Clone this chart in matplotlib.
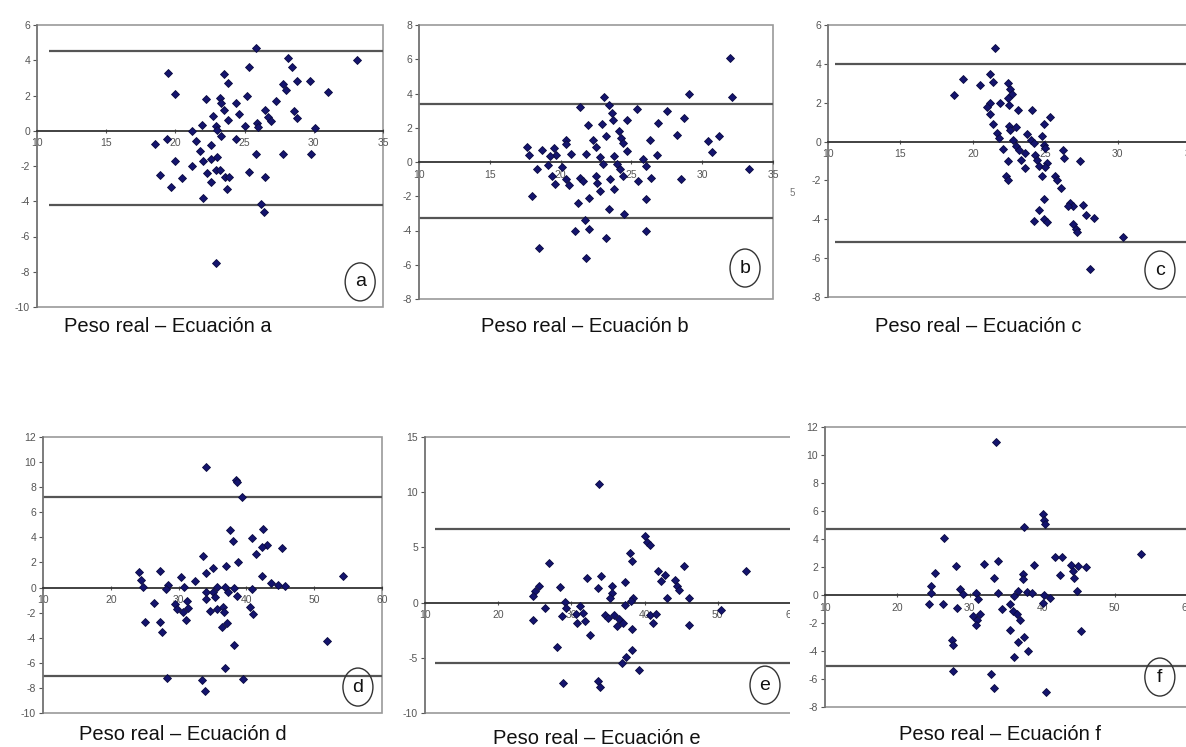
import matplotlib
matplotlib.use("Agg")
import matplotlib.pyplot as plt
from matplotlib.patches import Ellipse, Rectangle

plt.rcParams["font.family"] = ["Liberation Sans", "DejaVu Sans"]
plt.rcParams["axes.unicode_minus"] = False

W, H = 1186, 747

# ---- data ----
a_x = [25.8, 28.1, 28.4, 33.1, 19.5, 25.3, 23.5, 23.8, 28.8, 29.7, 27.8, 28.0, 31.0, 20.0,
       22.2, 23.2, 23.3, 25.2, 24.4, 24.6, 23.5, 27.3, 26.5, 26.7, 26.9, 28.6, 28.8, 22.7,
       23.8, 22.9, 21.9, 23.0, 25.0, 25.9, 26.0, 30.1, 21.2, 19.4, 18.5, 21.5, 23.3, 24.4,
       22.6, 21.8, 20.0, 22.0, 22.6, 23.0, 25.8, 27.8, 29.8, 21.2, 18.9, 20.5, 19.7, 22.3,
       22.9, 23.2, 23.6, 23.9, 22.6, 23.75, 25.3, 26.5, 22.0, 26.2, 26.4, 22.9]
a_y = [4.7, 4.1, 3.6, 4.0, 3.3, 3.6, 3.2, 2.7, 2.8, 2.8, 2.65, 2.3, 2.2, 2.1,
       1.8, 1.85, 1.6, 1.95, 1.6, 0.97, 1.15, 1.7, 1.2, 0.8, 0.55, 1.1, 0.72, 0.85,
       0.59, 0.25, 0.34, 0.05, 0.28, 0.44, 0.21, 0.15, -0.04, -0.45, -0.76, -0.6, -0.32, -0.45,
       -0.83, -1.17, -1.69, -1.74, -1.61, -1.5, -1.33, -1.33, -1.33, -2.0, -2.5, -2.7, -3.2, -2.37,
       -2.2, -2.2, -2.65, -2.6, -2.9, -3.3, -2.35, -2.65, -3.8, -4.15, -4.6, -7.5]

b_x = [31.96, 32.1, 29.1, 23.1, 21.4, 23.4, 25.4, 27.5, 23.6, 23.7, 24.7, 28.7, 21.9, 22.9,
       26.9, 24.1, 23.2, 28.2, 20.4, 22.3, 24.3, 26.3, 30.4, 31.2, 20.4, 22.5, 24.4, 24.7,
       30.7, 17.6, 17.8, 18.7, 19.5, 19.7, 19.25, 20.7, 21.8, 22.8, 23.8, 26.8, 19.1, 18.3,
       20.1, 23.0, 23.95, 25.8, 26.0, 33.3, 19.4, 20.4, 21.4, 22.5, 24.2, 24.4, 26.4, 28.5,
       19.6, 20.6, 21.6, 22.6, 23.5, 25.5, 22.8, 23.8, 18.0, 22.0, 26.0, 21.2, 23.4, 24.5,
       21.7, 21.0, 22.0, 26.0, 23.2, 18.5, 21.8]
b_y = [6.05, 3.8, 3.95, 3.8, 3.2, 3.3, 3.07, 2.97, 2.88, 2.45, 2.47, 2.55, 2.18, 2.23,
       2.27, 1.8, 1.5, 1.6, 1.3, 1.26, 1.4, 1.3, 1.2, 1.5, 1.03, 0.87, 1.13, 0.64,
       0.58, 0.87, 0.41, 0.68, 0.84, 0.41, 0.35, 0.49, 0.49, 0.29, 0.35, 0.41, -0.17, -0.39,
       -0.29, -0.14, -0.14, 0.15, -0.23, -0.43, -0.82, -1.0, -0.91, -0.82, -0.43, -0.82, -0.95, -1.0,
       -1.26, -1.34, -1.1, -1.2, -1.0, -1.1, -1.7, -1.6, -2.0, -2.08, -2.18, -2.4, -2.76, -3.05,
       -3.38, -4.02, -3.93, -4.02, -4.45, -5.03, -5.6]

c_x = [21.56, 19.3, 18.7, 20.5, 21.2, 21.4, 22.4, 22.6, 22.7, 22.4, 21.9, 21.2, 21.0, 22.5,
       23.1, 24.1, 25.3, 21.2, 21.4, 21.7, 21.8, 22.5, 23.0, 24.9, 22.6, 23.75, 24.8, 22.8,
       24.0, 24.2, 24.9, 22.1, 23.0, 23.6, 23.2, 25.0, 26.2, 26.3, 27.4, 22.4, 24.3, 23.3,
       24.4, 23.6, 25.1, 24.6, 25.0, 24.8, 22.3, 22.4, 25.7, 25.8, 26.1, 24.9, 26.7, 26.9,
       26.6, 27.6, 27.8, 28.4, 24.6, 24.2, 24.9, 25.1, 26.9, 27.1, 27.2, 30.4, 28.1]
c_y = [4.84, 3.24, 2.38, 2.9, 3.46, 3.08, 3.03, 2.69, 2.43, 2.26, 2.0, 1.96, 1.77, 1.86,
       1.65, 1.6, 1.26, 1.4, 0.88, 0.45, 0.19, 0.79, 0.74, 0.88, 0.62, 0.4, 0.31, 0.1,
       0.1, -0.07, -0.16, -0.38, -0.24, -0.59, -0.45, -0.33, -0.41, -0.84, -0.98, -0.98, -0.67, -0.93,
       -0.93, -1.36, -1.1, -1.27, -1.33, -1.79, -1.79, -1.96, -1.79, -1.96, -2.39, -2.96, -3.16, -3.33,
       -3.33, -3.26, -3.77, -3.94, -3.53, -4.08, -4.0, -4.12, -4.25, -4.51, -4.64, -4.93, -6.55]

d_x = [34.0, 38.5, 38.6, 39.3, 37.6, 42.5, 38.0, 40.8, 43.1, 42.3, 45.2, 41.4, 33.6, 38.8,
       37.0, 35.0, 34.1, 27.2, 24.1, 42.3, 54.3, 24.4, 30.3, 32.4, 24.8, 28.5, 30.8, 35.6,
       36.8, 38.1, 40.8, 43.7, 44.7, 45.7, 28.2, 34.0, 35.1, 37.3, 38.6, 34.1, 35.4, 26.3,
       29.5, 31.3, 29.7, 31.4, 30.6, 34.6, 35.6, 36.5, 36.7, 40.5, 40.9, 31.1, 25.1, 27.2,
       27.6, 37.2, 36.4, 38.1, 51.9, 36.9, 28.3, 33.4, 39.5, 33.9]
d_y = [9.6, 8.6, 8.4, 7.2, 4.56, 4.64, 3.7, 3.97, 3.36, 3.2, 3.17, 2.7, 2.5, 2.02,
       1.68, 1.58, 1.17, 1.31, 1.23, 0.96, 0.96, 0.62, 0.88, 0.56, 0.03, 0.24, 0.03, 0.08,
       0.03, -0.03, -0.11, 0.35, 0.21, 0.16, -0.11, -0.37, -0.37, -0.37, -0.64, -0.91, -0.77, -1.23,
       -1.31, -1.1, -1.71, -1.63, -1.97, -1.9, -1.71, -1.57, -1.97, -1.57, -2.1, -2.59, -2.77, -2.77,
       -3.52, -2.85, -3.17, -4.56, -4.29, -6.43, -7.23, -7.39, -7.31, -8.24]

e_x = [33.8, 40.0, 40.3, 40.7, 38.0, 38.3, 26.9, 45.4, 53.8, 41.8, 42.8, 42.2, 44.1, 44.4,
       44.7, 32.1, 34.0, 33.6, 37.3, 35.5, 35.6, 35.3, 28.4, 25.6, 25.0, 24.7, 43.1, 46.0,
       38.4, 38.1, 37.3, 26.4, 29.1, 29.3, 31.2, 30.6, 31.6, 28.7, 31.8, 30.8, 34.6, 35.0,
       35.8, 36.5, 37.1, 36.2, 38.3, 40.7, 41.5, 41.1, 50.5, 24.8, 46.1, 32.5, 28.1, 38.3,
       37.5, 36.9, 39.3, 28.9, 33.7, 33.9]
e_y = [10.7, 6.0, 5.5, 5.2, 4.5, 3.73, 3.59, 3.34, 2.89, 2.83, 2.53, 1.93, 2.08, 1.48,
       1.11, 2.23, 2.44, 1.33, 1.84, 1.54, 0.87, 0.42, 1.38, 1.48, 1.03, 0.63, 0.42, 0.42,
       0.42, 0.12, -0.18, -0.48, 0.03, -0.48, -0.27, -0.99, -0.93, -1.24, -1.69, -1.84, -1.08, -1.38,
       -1.08, -1.47, -1.84, -2.14, -2.38, -1.08, -0.99, -1.84, -0.63, -1.54, -1.99, -2.89, -4.04, -4.31,
       -4.91, -5.51, -6.11, -7.26, -7.1, -7.65]

f_x = [33.6, 40.1, 40.2, 40.4, 37.5, 26.4, 53.6, 41.7, 42.8, 44.0, 45.0, 46.0, 38.9, 28.1,
       31.9, 33.9, 42.4, 44.3, 44.4, 25.2, 33.3, 37.3, 37.4, 44.8, 24.6, 24.7, 28.7, 29.0,
       33.9, 36.7, 37.9, 38.6, 36.1, 30.9, 31.2, 40.2, 41.1, 40.1, 24.3, 26.3, 28.3, 34.5,
       35.6, 35.9, 36.5, 36.9, 30.5, 31.0, 31.4, 30.9, 35.5, 45.3, 27.6, 27.7, 37.5, 36.7,
       38.0, 36.1, 27.7, 32.9, 33.3, 40.5]
f_y = [10.9, 5.8, 5.37, 5.04, 4.89, 4.05, 2.93, 2.68, 2.68, 2.13, 2.09, 2.01, 2.13, 2.04,
       2.2, 2.4, 1.41, 1.72, 1.24, 1.56, 1.24, 1.49, 1.13, 0.29, 0.65, 0.17, 0.45, 0.09,
       0.17, 0.29, 0.24, 0.17, -0.07, 0.12, -0.31, 0.0, -0.24, -0.55, -0.62, -0.62, -0.91, -1.03,
       -0.67, -1.15, -1.39, -1.75, -1.51, -1.75, -1.39, -2.11, -2.52, -2.54, -3.19, -3.55, -3.0, -3.36,
       -3.98, -4.46, -5.42, -5.66, -6.62, -6.91]

upper = {"a": 4.5, "b": 3.4, "c": 3.98, "d": 7.2, "e": 6.65, "f": 4.68}
lower = {"a": -4.2, "b": -3.25, "c": -5.15, "d": -7.05, "e": -5.5, "f": -5.05}

panels = [
    # name, x, y, pixel box (l, t, r, b), xlim, xstep, ylim, ystep, line start, badge pos
    ("a", a_x, a_y, (37, 25, 383, 307), (10, 35), 5, (-10, 6), 2, 10.9, (0.934, 0.089)),
    ("b", b_x, b_y, (419, 25, 773, 299), (10, 35), 5, (-8, 8), 2, 10.0, (0.921, 0.113)),
    ("c", c_x, c_y, (828, 25, 1190, 297), (10, 35), 5, (-8, 6), 2, 10.5, (0.917, 0.099)),
    ("d", d_x, d_y, (43, 437, 382, 713), (10, 60), 10, (-10, 12), 2, 10.0, (0.929, 0.094)),
    ("e", e_x, e_y, (425, 437, 791, 713), (10, 60), 10, (-10, 15), 5, 11.3, (0.929, 0.101)),
    ("f", f_x, f_y, (825, 427, 1187, 707), (10, 60), 10, (-8, 12), 2, 10.0, (0.925, 0.107)),
]
label_pos = {"a": (168, 326), "b": (585, 326), "c": (978, 326),
             "d": (183, 734), "e": (597, 738), "f": (1000, 735)}

fig = plt.figure(figsize=(W / 100, H / 100), dpi=100)

for name, xs, ys, box, xlim, xstep, ylim, ystep, x0, badge in panels:
    l, t, r, b = box
    ax = fig.add_axes([l / W, 1 - b / H, (r - l) / W, (b - t) / H])
    if name == "f":
        ax.set_zorder(2)
    ax.set_xlim(*xlim)
    ax.set_ylim(*ylim)
    ax.set_xticks(range(xlim[0], xlim[1] + 1, xstep))
    ax.set_yticks(range(ylim[0], ylim[1] + 1, ystep))

    for s in ["top", "right"]:
        ax.spines[s].set_visible(False)
    ax.spines["left"].set_color("#777777")
    ax.spines["left"].set_linewidth(1.2)
    ax.spines["bottom"].set_position(("data", 0))
    ax.spines["bottom"].set_color("#333333")
    ax.spines["bottom"].set_linewidth(1.3)
    ax.add_patch(Rectangle((0, 0), 1, 1, transform=ax.transAxes, fill=False,
                           ec="#9a9a9a", lw=1.2, clip_on=False, zorder=0))

    ax.tick_params(axis="both", labelsize=7.5, colors="#555555", length=3, width=0.8)
    ax.tick_params(axis="x", direction="inout", pad=4)
    ax.tick_params(axis="y", pad=2)

    ax.hlines([upper[name], lower[name]], x0, xlim[1], colors="#555555", lw=1.6, zorder=1)
    ax.plot(xs, ys, linestyle="none", marker="D", ms=4.3, mfc="#14146e", mec="#0a0a40",
            mew=0.6, zorder=3)

    bw = 30 / (r - l)
    bh = 38 / (b - t)
    ax.add_patch(Ellipse(badge, bw, bh, transform=ax.transAxes, fill=False, ec="#333333",
                         lw=1.0, zorder=4))
    ax.text(badge[0], badge[1], name, transform=ax.transAxes, ha="center", va="center",
            fontsize=14, color="#111111", zorder=5)

    lx, ly = label_pos[name]
    fig.text(lx / W, 1 - ly / H, "Peso real – Ecuación " + name, ha="center", va="center",
             fontsize=14.5, color="#111111")

# panel f sits on a white sheet that clips the right end of panel e
fig.add_artist(Rectangle((790 / W, 0), 1 - 790 / W, 1 - 400 / H, transform=fig.transFigure,
                         fc="white", ec="none", zorder=1))

# stray fragment of a label left of panel c
fig.text(792 / W, 1 - 193 / H, "5", fontsize=7, color="#777777", ha="center", va="center")

fig.savefig("out.png", dpi=100)
